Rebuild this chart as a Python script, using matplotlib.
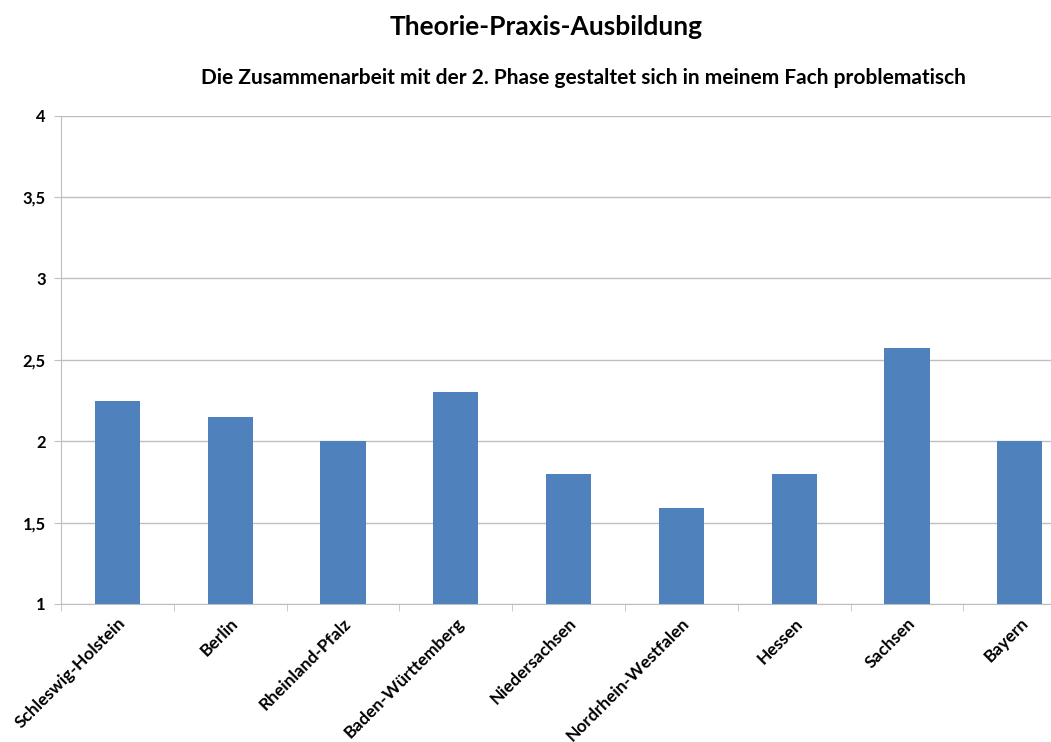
import numpy as np
import matplotlib.pyplot as plt
from matplotlib.ticker import FuncFormatter, FixedLocator

plt.rcParams['font.family'] = ['Lato', 'DejaVu Sans']

laender = ['Schleswig-Holstein', 'Berlin', 'Rheinland-Pfalz', 'Baden-Württemberg',
           'Niedersachsen', 'Nordrhein-Westfalen', 'Hessen', 'Sachsen', 'Bayern']
werte = [2.25, 2.15, 2.0, 2.3, 1.8, 1.59, 1.8, 2.57, 2.0]
y_ticks = [1, 1.5, 2, 2.5, 3, 3.5, 4]

fig = plt.figure(figsize=(10.51, 7.42), dpi=100)
# the plot area runs past the right edge of the picture, as in the original
ax = fig.add_axes([0.058, 0.186, 0.966, 0.658])

x = np.arange(len(laender))
ax.bar(x, np.array(werte) - 1, bottom=1, width=0.4, color='#4F81BD', zorder=3)

ax.set_xlim(-0.5, len(laender) - 0.5)
ax.set_ylim(1, 4)
ax.set_yticks(y_ticks)
ax.yaxis.set_major_formatter(FuncFormatter(lambda v, p: ('%g' % v).replace('.', ',')))
ax.grid(axis='y', color='#BFBFBF', linewidth=1, zorder=0)

ax.set_xticks(x)
ax.set_xticklabels(laender, rotation=45, ha='right', rotation_mode='anchor',
                   fontsize=12.5, fontweight='bold')
ax.tick_params(axis='x', length=0, pad=8)
ax.xaxis.set_minor_locator(FixedLocator(np.arange(-0.5, len(laender), 1)))
ax.tick_params(axis='x', which='minor', length=5, color='#BFBFBF')
ax.tick_params(axis='y', length=5, color='#BFBFBF', labelsize=12, pad=6)
for lab in ax.get_yticklabels():
    lab.set_fontweight('bold')

for s in ['top', 'right']:
    ax.spines[s].set_visible(False)
for s in ['left', 'bottom']:
    ax.spines[s].set_color('#BFBFBF')

fig.text(0.52, 0.963, 'Theorie-Praxis-Ausbildung', ha='center', va='center',
         fontsize=19, fontweight='bold')
fig.text(0.555, 0.895, 'Die Zusammenarbeit mit der 2. Phase gestaltet sich in meinem Fach problematisch',
         ha='center', va='center', fontsize=15, fontweight='bold')

fig.savefig('out.png', dpi=100)
